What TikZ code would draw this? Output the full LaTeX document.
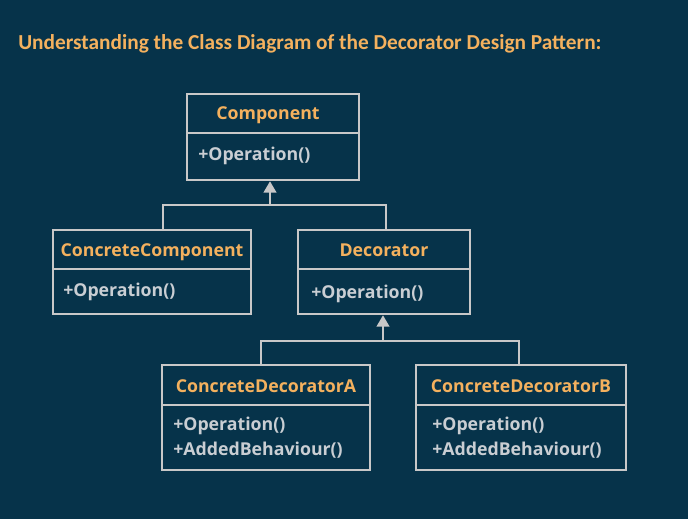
\documentclass[tikz,border=0pt]{standalone}
\usepackage{fontspec}
\setmainfont{Open Sans}
\newfontfamily\titlefont{Carlito}
\usetikzlibrary{arrows.meta,fit}
\definecolor{bg}{HTML}{06334A}
\definecolor{orng}{HTML}{F4B15E}
\definecolor{lin}{HTML}{C8C8C8}
\definecolor{txt}{HTML}{C9CED3}
\begin{document}
\begin{tikzpicture}[x=0.75pt,y=-0.75pt,
  umlbox/.style={draw=lin,line width=1.9pt,inner sep=0pt},
  divider/.style={draw=lin,line width=1.9pt},
  clsname/.style={text=orng,font=\bfseries\fontsize{13.3}{15}\selectfont,inner sep=0pt},
  oper/.style={text=txt,font=\bfseries\fontsize{13.3}{15}\selectfont,inner sep=0pt,anchor=west},
  conn/.style={draw=lin,line width=1.5pt},
  inherit/.style={draw=lin,line width=1.5pt,-{Triangle[length=8.5pt,width=9.5pt,fill=lin]}},
  heading/.style={text=orng,font=\titlefont\bfseries\fontsize{16}{19}\selectfont,inner sep=0pt,anchor=west}]
\fill[bg] (0,0) rectangle (688,519);
\useasboundingbox (0,0) rectangle (688,519);

\node[heading] (title) at (18,44) {Understanding the Class Diagram of the Decorator Design Pattern:};

% Component
\node[umlbox,fit={(187,94) (359,180)}] (comp) {};
\draw[divider] (187,133) -- (359,133);
\node[clsname] (compN) at (268,115) {Component};
\node[oper] (compO) at (198,156) {+Operation()};

% ConcreteComponent
\node[umlbox,fit={(53,230) (251,314)}] (cc) {};
\draw[divider] (53,269) -- (251,269);
\node[clsname] (ccN) at (152,252) {ConcreteComponent};
\node[oper] (ccO) at (63,292) {+Operation()};

% Decorator
\node[umlbox,fit={(298,230) (470,314)}] (dec) {};
\draw[divider] (298,269) -- (470,269);
\node[clsname] (decN) at (384,250) {Decorator};
\node[oper] (decO) at (311,294) {+Operation()};

% ConcreteDecoratorA
\node[umlbox,fit={(162,365) (370,470)}] (da) {};
\draw[divider] (162,405) -- (370,405);
\node[clsname] (daN) at (266,386) {ConcreteDecoratorA};
\node[oper] (daO1) at (173,426) {+Operation()};
\node[oper] (daO2) at (173,450) {+AddedBehaviour()};

% ConcreteDecoratorB
\node[umlbox,fit={(416,365) (626,470)}] (db) {};
\draw[divider] (416,405) -- (626,405);
\node[clsname] (dbN) at (521,386) {ConcreteDecoratorB};
\node[oper] (dbO1) at (432,426) {+Operation()};
\node[oper] (dbO2) at (432,450) {+AddedBehaviour()};

% connectors
\coordinate (j1) at (270,205);
\coordinate (j2) at (383,341);
\draw[conn] ([xshift=8.25pt]cc.north) |- (j1) -| ([xshift=1.5pt]dec.north);
\draw[inherit] (j1) -- (j1 |- comp.south);
\draw[conn] ([xshift=-3.75pt]da.north) |- (j2) -| ([xshift=-1.5pt]db.north);
\draw[inherit] (j2) -- (j2 |- dec.south);
\end{tikzpicture}
\end{document}
